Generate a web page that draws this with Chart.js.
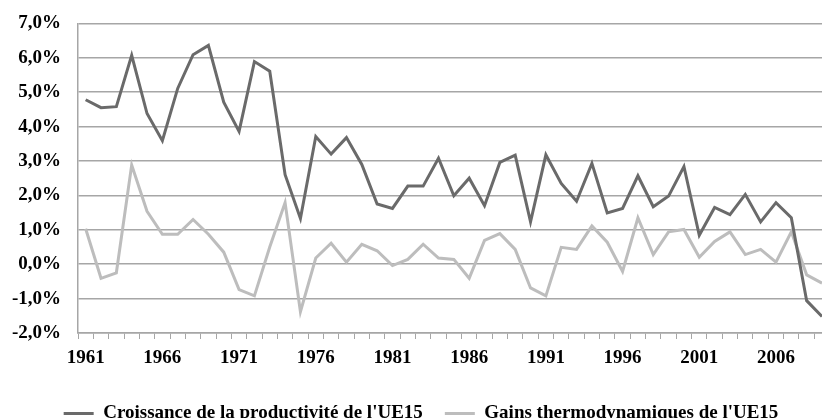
<!DOCTYPE html>
<html>
<head>
<meta charset="utf-8">
<script src="https://cdn.jsdelivr.net/npm/chart.js@4"></script>
<style>
  body { margin: 0; overflow: hidden; background: #fff; }
  #wrap { position: absolute; left: 0; top: -5px; }
</style>
</head>
<body>
<div id="wrap"><canvas id="myChart" width="830" height="438"></canvas></div>
<script>
// years 1961 - 2009
const years = [];
for (let y = 1961; y <= 2009; y++) years.push(String(y));

const productivite = [
  4.78, 4.55, 4.58, 6.07, 4.38, 3.59, 5.11, 6.09, 6.36, 4.71,
  3.86, 5.89, 5.61, 2.60, 1.33, 3.71, 3.20, 3.68, 2.90, 1.75,
  1.62, 2.27, 2.27, 3.08, 1.99, 2.50, 1.70, 2.96, 3.17, 1.23,
  3.18, 2.35, 1.83, 2.93, 1.49, 1.62, 2.57, 1.67, 1.98, 2.84,
  0.84, 1.65, 1.44, 2.03, 1.23, 1.79, 1.35, -1.06, -1.52
];

const thermo = [
  1.03, -0.41, -0.25, 2.88, 1.54, 0.87, 0.87, 1.30, 0.87, 0.35,
  -0.74, -0.92, 0.50, 1.79, -1.38, 0.18, 0.61, 0.06, 0.58, 0.39,
  -0.04, 0.14, 0.58, 0.18, 0.14, -0.41, 0.69, 0.89, 0.43, -0.69,
  -0.92, 0.49, 0.43, 1.11, 0.64, -0.21, 1.35, 0.28, 0.94, 1.01,
  0.20, 0.66, 0.94, 0.28, 0.43, 0.06, 0.94, -0.31, -0.55
];

const seriesNames = ["Croissance de la productivité de l'UE15", "Gains thermodynamiques de l'UE15"];

const font = { family: "'Liberation Serif', 'Times New Roman', serif", weight: 'bold', size: 19 };
const gridColor = '#a6a6a6';

let ctx = document.getElementById('myChart').getContext('2d');
let myChart = new Chart(ctx, {
  type: 'line',
  data: {
    labels: years,
    datasets: [
      {
        label: seriesNames[0],
        data: productivite,
        borderColor: '#6a6a6a',
        backgroundColor: '#6a6a6a',
        borderWidth: 3,
        pointRadius: 0,
        tension: 0
      },
      {
        label: seriesNames[1],
        data: thermo,
        borderColor: '#bdbdbd',
        backgroundColor: '#bdbdbd',
        borderWidth: 3,
        pointRadius: 0,
        tension: 0
      }
    ]
  },
  options: {
    responsive: false,
    animation: false,
    layout: { padding: { left: 12, top: 5, right: 0, bottom: 0 } },
    plugins: {
      tooltip: { enabled: false },
      legend: {
        position: 'bottom',
        labels: {
          font: { family: font.family, weight: 'bold', size: 19 },
          color: '#000',
          usePointStyle: true,
          pointStyle: 'line',
          pointStyleWidth: 30,
          boxHeight: 3,
          padding: 22
        }
      }
    },
    scales: {
      x: {
        offset: true,
        afterFit: function(scale) {
          scale.height = 49;
        },
        grid: {
          offset: true,
          drawOnChartArea: false,
          drawTicks: true,
          tickLength: 6,
          color: gridColor
        },
        border: { color: gridColor, width: 1.5 },
        ticks: {
          autoSkip: false,
          maxRotation: 0,
          padding: 8,
          color: '#000',
          font: font,
          callback: function(val, i) {
            return i % 5 === 0 ? years[i] : '';
          }
        }
      },
      y: {
        min: -2,
        max: 7,
        afterFit: function(scale) {
          scale.width = 66;
        },
        grid: { color: gridColor, lineWidth: 1.5, drawTicks: false },
        border: { color: gridColor, width: 1.5 },
        ticks: {
          stepSize: 1,
          padding: 17,
          color: '#000',
          font: font,
          callback: function(v) {
            return v.toFixed(1).replace('.', ',') + '%';
          }
        }
      }
    }
  }
});
</script>
</body>
</html>
